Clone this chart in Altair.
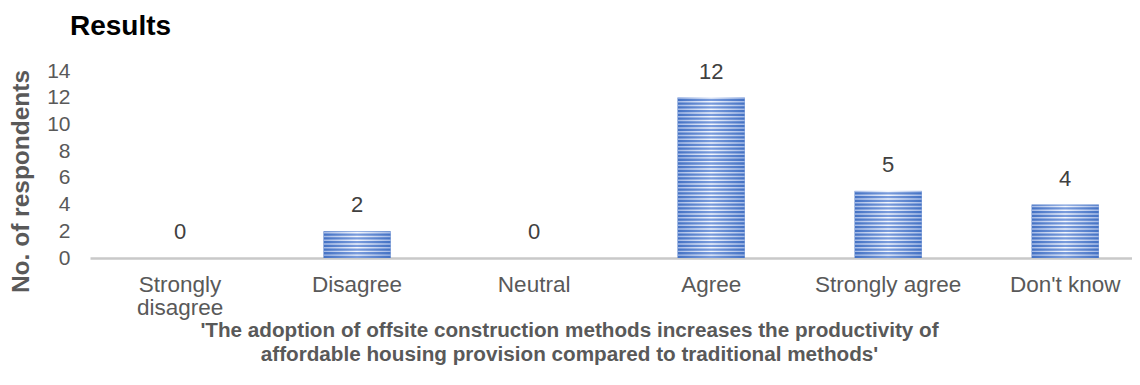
import altair as alt
import pandas as pd

categories = ["Strongly disagree", "Disagree", "Neutral", "Agree", "Strongly agree", "Don't know"]
values = [0, 2, 0, 12, 5, 4]
y_ticks = [0, 2, 4, 6, 8, 10, 12, 14]

df = pd.DataFrame({"category": categories, "value": values})

FONT = "Liberation Sans"
GRAY = "#595959"

x_scale = alt.Scale(paddingInner=0.62, paddingOuter=0.253, align=0.63)
x_axis = alt.Axis(
    title=[
        "'The adoption of offsite construction methods increases the productivity of",
        "affordable housing provision compared to traditional methods'",
    ],
    titleFont=FONT,
    titleFontSize=20.7,
    titleFontWeight="bold",
    titleColor=GRAY,
    titleLineHeight=24,
    titleX=479,
    titleY=62,
    titleAlign="center",
    titleBaseline="top",
    labelFont=FONT,
    labelFontSize=22.5,
    labelColor=GRAY,
    labelAngle=0,
    labelLineHeight=23,
    labelPadding=15,
    labelExpr="datum.value == 'Strongly disagree' ? ['Strongly', 'disagree'] : datum.value",
    ticks=False,
    tickSize=0,
    domainColor="#c9c9c9",
    domainWidth=2.5,
    grid=False,
)

y_scale = alt.Scale(domain=[0, 14], nice=False)
y_axis = alt.Axis(
    values=y_ticks,
    title="No. of respondents",
    titleFont=FONT,
    titleFontSize=24.5,
    titleFontWeight="bold",
    titleColor=GRAY,
    titleAngle=-90,
    titleX=-69,
    titleY=110,
    titleAlign="center",
    titleBaseline="middle",
    labelFont=FONT,
    labelFontSize=21,
    labelColor=GRAY,
    labelPadding=20,
    labelOverlap=False,
    labelSeparation=0,
    ticks=False,
    tickSize=0,
    domain=False,
    grid=False,
)

base_fill = alt.Gradient(
    gradient="linear",
    x1=0, x2=1, y1=0, y2=0,
    stops=[
        alt.GradientStop(color="#4472c4", offset=0),
        alt.GradientStop(color="#7a9cdc", offset=0.5),
        alt.GradientStop(color="#4472c4", offset=1),
    ],
)
stripe_fill = alt.Gradient(
    gradient="linear",
    x1=0, x2=1, y1=0, y2=0,
    stops=[
        alt.GradientStop(color="#a3b9e6", offset=0),
        alt.GradientStop(color="#f4f7fd", offset=0.5),
        alt.GradientStop(color="#a3b9e6", offset=1),
    ],
)

x_enc = alt.X("category:N", sort=categories, scale=x_scale, axis=x_axis)

bars = alt.Chart(df).mark_bar(fill=base_fill).encode(
    x=x_enc,
    y=alt.Y("value:Q", scale=y_scale, axis=y_axis),
)

stripes = (
    alt.Chart(df)
    .transform_calculate(s="sequence(0.16, datum.value - 0.05, 0.28)")
    .transform_flatten(["s"])
    .transform_calculate(s2="datum.s + 0.11")
    .mark_bar(fill=stripe_fill)
    .encode(
        x=x_enc,
        y=alt.Y("s:Q", scale=y_scale, axis=y_axis),
        y2="s2:Q",
    )
)

labels = alt.Chart(df).mark_text(
    font=FONT, fontSize=22, color="#404040", baseline="bottom", dy=-14
).encode(
    x=x_enc,
    y=alt.Y("value:Q", scale=y_scale, axis=y_axis),
    text="value:Q",
)

chart = (
    alt.layer(bars, stripes, labels)
    .properties(
        width=1042,
        height=187,
        title=alt.TitleParams(
            text="Results",
            anchor="start",
            frame="group",
            font=FONT,
            fontSize=28,
            fontWeight="bold",
            color="#000000",
            dx=-20,
            dy=-13,
            offset=6,
        ),
        autosize=alt.AutoSizeParams(type="none"),
        padding={"left": 82, "top": 63, "right": 0, "bottom": 118},
    )
    .configure_view(stroke=None)
    .configure_axisY(labelOverlap=False)
)

chart.save("out.html", embed_options={"renderer": "svg", "actions": False})
